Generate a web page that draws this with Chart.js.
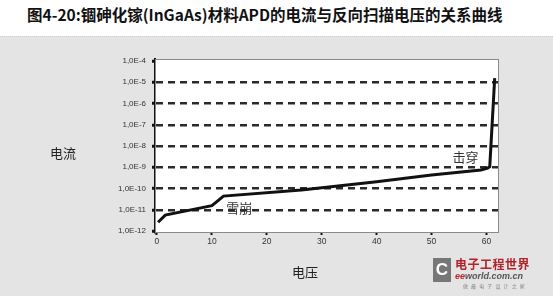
<!DOCTYPE html>
<html>
<head>
<meta charset="utf-8">
<script src="https://cdn.jsdelivr.net/npm/chart.js@4/dist/chart.umd.min.js"></script>
<style>
    body { margin: 0; width: 553px; height: 296px; overflow: hidden; background: #fff; position: relative;
           font-family: "Noto Sans CJK SC", "Liberation Sans", sans-serif; }
    #panel { position: absolute; left: 0; top: 36px; width: 553px; height: 260px; background: #e4e4e4;
             border-top: 1px dotted #cfcfcf; }
    #title { position: absolute; left: 27px; top: 3px; font-size: 15.5px; font-weight: bold; color: #111; white-space: nowrap; }
    canvas { position: absolute; left: 0; top: 0; }
    .lbl { position: absolute; font-size: 13px; color: #222; white-space: nowrap; }
    #logo { position: absolute; left: 433px; top: 257px; width: 115px; height: 32px; }
    #logo .ic { position: absolute; left: 0; top: 1px; width: 18px; height: 24px; background: #777; color: #fff;
                font: bold 17px "Liberation Sans"; text-align: center; line-height: 24px; }
    #logo .cn { position: absolute; left: 22px; top: -2px; font-size: 12px; font-weight: bold; color: #b0232a; letter-spacing: 0.5px; }
    #logo .en { position: absolute; left: 22px; top: 14px; font: italic bold 9px "Liberation Sans"; color: #555; }
    #logo .en b { color: #c0262d; }
    #logo .sm { position: absolute; left: 30px; top: 25px; font-size: 5px; color: #888; letter-spacing: 1px; }
</style>
</head>
<body>
<div id="panel"></div>
<div id="title">图4-20:锢砷化镓(InGaAs)材料APD的电流与反向扫描电压的关系曲线</div>
<canvas id="chart" width="553" height="296"></canvas>
<div class="lbl" style="left:50px; top:143px;">电流</div>
<div class="lbl" style="left:292px; top:262px;">电压</div>
<div id="logo">
    <div class="ic">C</div>
    <div class="cn">电子工程世界</div>
    <div class="en"><b>ee</b>world.com.cn</div>
    <div class="sm">做 最 电 子 设 计 之 家</div>
</div>
<script>
// Reverse-bias sweep: voltage (V) vs current (A)
const voltage = [0.2, 1.5, 10.0, 10.9, 12.1, 26.3, 40.0, 50.0, 59.0, 60.2, 60.6, 61.5];
const current = [2.6e-12, 5.6e-12, 1.55e-11, 2.4e-11, 4.4e-11, 8.5e-11, 2.1e-10, 4.3e-10, 7.4e-10, 9.0e-10, 1.07e-9, 1.55e-5];
const xTicks = [0, 10, 20, 30, 40, 50, 60];
const yTicks = [1e-12, 1e-11, 1e-10, 1e-9, 1e-8, 1e-7, 1e-6, 1e-5, 1e-4];

const notes = [
    { text: '雪崩', x: 15.0, y: 1.2e-11 },
    { text: '击穿', x: 56.2, y: 3.0e-9 }
];

const framePlugin = {
    id: 'frame',
    beforeDraw(chart) {
        const a = chart.chartArea;
        const ctx = chart.ctx;
        ctx.save();
        ctx.fillStyle = '#fff';
        ctx.fillRect(a.left, a.top, a.right - a.left, a.bottom - a.top);
        ctx.restore();
    },
    afterDraw(chart) {
        const a = chart.chartArea;
        const ctx = chart.ctx;
        ctx.save();
        ctx.strokeStyle = '#8a8a8a';
        ctx.lineWidth = 1;
        ctx.strokeRect(a.left + 0.5, a.top + 0.5, a.right - a.left, a.bottom - a.top);
        ctx.font = '13px "Noto Sans CJK SC"';
        ctx.fillStyle = '#333';
        ctx.textAlign = 'center';
        ctx.textBaseline = 'middle';
        notes.forEach(n => {
            ctx.fillText(n.text, chart.scales.x.getPixelForValue(n.x), chart.scales.y.getPixelForValue(n.y));
        });
        ctx.restore();
    }
};

new Chart(document.getElementById('chart').getContext('2d'), {
    type: 'line',
    data: {
        labels: voltage,
        datasets: [{
            data: voltage.map((v, i) => ({ x: v, y: current[i] })),
            borderColor: '#111',
            borderWidth: 3,
            pointRadius: 0,
            tension: 0,
            fill: false
        }]
    },
    options: {
        responsive: false,
        animation: false,
        layout: { padding: { left: 0, top: 59, right: 55, bottom: 0 } },
        plugins: { legend: { display: false }, tooltip: { enabled: false } },
        scales: {
            x: {
                type: 'linear',
                min: -0.36,
                max: 62.1,
                afterBuildTicks: s => { s.ticks = xTicks.map(v => ({ value: v })); },
                afterFit: s => { s.height = 64; },
                ticks: { color: '#333', font: { family: 'Liberation Sans', size: 8.5 }, padding: 2, maxRotation: 0 },
                grid: { drawOnChartArea: false, tickLength: 3, tickColor: '#111', tickWidth: 2 },
                border: { display: false }
            },
            y: {
                type: 'logarithmic',
                min: 9.0e-13,
                max: 1.24e-4,
                afterBuildTicks: s => { s.ticks = yTicks.map(v => ({ value: v })); },
                afterFit: s => { s.width = 155; },
                ticks: {
                    color: '#333',
                    font: { family: 'Liberation Sans', size: 8 },
                    padding: 6,
                    callback: v => '1,0E' + Math.round(Math.log10(v))
                },
                grid: {
                    color: c => (c.tick.value > 1.5e-12 && c.tick.value < 5e-5) ? '#2a2a2a' : 'rgba(0,0,0,0)',
                    lineWidth: 2.5,
                    tickLength: 3,
                    tickColor: '#111',
                    tickWidth: 3
                },
                border: { display: true, color: '#111', width: 2, dash: [7, 5] }
            }
        }
    },
    plugins: [framePlugin]
});
</script>
</body>
</html>
